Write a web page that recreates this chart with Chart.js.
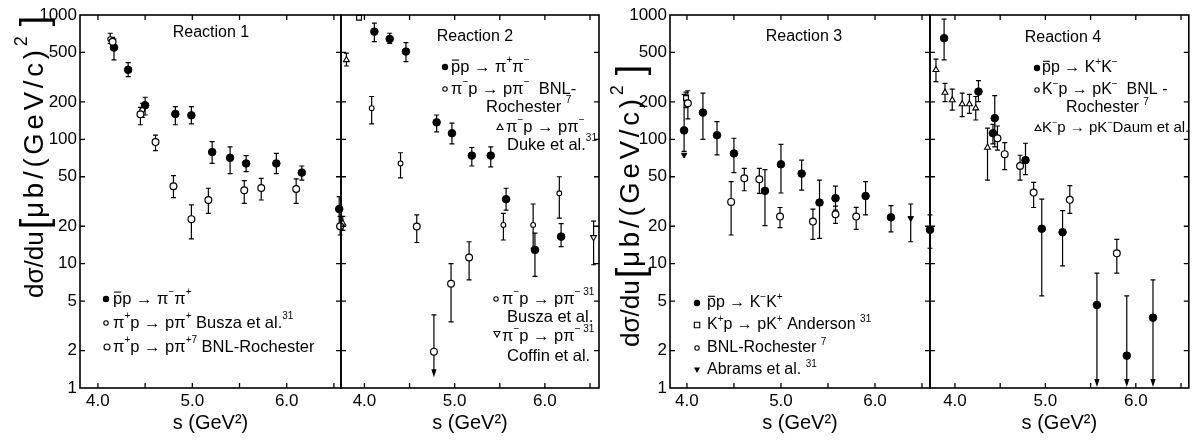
<!DOCTYPE html>
<html>
<head>
<meta charset="utf-8">
<script src="https://cdn.jsdelivr.net/npm/chart.js@4.4.1/dist/chart.umd.min.js"></script>
<style>
  html, body { margin: 0; background: #fff; }
  #wrap { position: relative; width: 1194px; height: 440px; }
  #wrap canvas { position: absolute; left: 0; top: 0; }
</style>
</head>
<body>
<div id="wrap">
  <canvas id="c1" width="1194" height="440"></canvas>
  <canvas id="c2" width="1194" height="440"></canvas>
  <canvas id="c3" width="1194" height="440"></canvas>
  <canvas id="c4" width="1194" height="440"></canvas>
</div>
<script>
// tick values
const yTicks = [1, 2, 5, 10, 20, 50, 100, 200, 500, 1000];
const xTicks = [4, 5, 6];
const xMinorTicks = [4, 4.5, 5, 5.5, 6, 6.5];

// Reaction 1
const p1PbarS  = [4.17, 4.32, 4.50, 4.82, 4.99, 5.21, 5.40, 5.57, 5.89, 6.16];
const p1PbarY  = [547, 362, 188, 160, 156, 79, 71, 64, 64, 54];
const p1PbarHi = [641, 414, 218, 183, 183, 96, 87, 74, 77, 61];
const p1PbarLo = [435, 320, 157, 131, 133, 64, 53, 55, 53, 47];
const p1BnlS  = [4.155, 4.45, 4.61, 4.80, 4.99, 5.17, 5.55, 5.73, 6.10];
const p1BnlY  = [610, 159, 95, 42, 22.8, 32.5, 39, 40.6, 39.9];
const p1BnlHi = [660, 181, 108, 51, 29.7, 40.4, 46.5, 48.6, 48];
const p1BnlLo = [570, 131, 81, 34, 15.8, 25.4, 30.6, 32.5, 30.6];
const p1BuszaS  = [4.13, 4.47];
const p1BuszaY  = [640, 172];
const p1BuszaHi = [713, 195];
const p1BuszaLo = [590, 150];

// Reaction 2
const p2PbarS  = [3.72, 4.11, 4.28, 4.46, 4.80, 4.97, 5.19, 5.40, 5.57, 5.89, 6.18];
const p2PbarY  = [27.5, 735, 642, 508, 137, 112, 74, 74, 33, 12.9, 16.5];
const p2PbarHi = [34.6, 859, 713, 600, 157, 135, 86, 87, 40.4, 17.6, 21];
const p2PbarLo = [19.9, 611, 592, 422, 115, 92, 61, 60, 27, 7.9, 13.7];
const p2BnlS  = [3.73, 4.58, 4.77, 4.96, 5.16];
const p2BnlY  = [20, 19.9, 1.96, 6.9, 11.2];
const p2BnlHi = [24, 24.7, 3.87, 10, 15];
const p2BnlLo = [17, 14.8, 1.22, 3.4, 7.4];
const p2BnlArrows = [2];
const p2BuszaS  = [4.08, 4.40, 5.54, 5.87, 6.16];
const p2BuszaY  = [178, 64, 20.5, 20.5, 36.8];
const p2BuszaHi = [221, 78, 25.4, 30.2, 50];
const p2BuszaLo = [133, 49, 15.5, 13.3, 23.2];
const p2DukeS  = [3.80, 3.76];
const p2DukeY  = [435, 21.1];
const p2DukeHi = [493, 24];
const p2DukeLo = [389, 18.5];
const p2CoffinS  = [6.54];
const p2CoffinY  = [16.3];
const p2CoffinHi = [22];
const p2CoffinLo = [9.8];
const p2SquareS = [3.94];
const p2SquareY = [950];

// Reaction 3
const p3PbarS  = [3.97, 4.17, 4.32, 4.50, 4.83, 5.00, 5.22, 5.41, 5.58, 5.90, 6.17, 6.585];
const p3PbarY  = [118, 164, 108, 77, 38.5, 63, 53, 31, 33.6, 35, 23.6, 18.7];
const p3PbarHi = [230, 235, 139, 102, 57, 91, 68, 47, 42, 45.7, 29.3, 24.7];
const p3PbarLo = [80, 100, 75, 54, 20.2, 37, 39, 16, 27, 24.7, 18, 13.3];
const p3AndS  = [3.99];
const p3AndY  = [215];
const p3AndHi = [240];
const p3AndLo = [180];
const p3BnlS  = [4.01, 4.47, 4.61, 4.77, 4.99, 5.34, 5.58, 5.80];
const p3BnlY  = [195, 31.4, 48.6, 47.7, 23.9, 21.8, 25, 23.9];
const p3BnlHi = [246, 45.7, 58.5, 58.5, 28.3, 27.5, 29, 28.4];
const p3BnlLo = [146, 17, 38.6, 36.8, 19.5, 15.7, 21.1, 18.9];
const p3AbramsS  = [3.97, 6.38];
const p3AbramsY  = [75, 23.2];
const p3AbramsHi = [null, 30.2];
const p3AbramsLo = [null, 15];

// Reaction 4
const p4PbarS  = [3.88, 4.26, 4.42, 4.44, 4.78, 4.96, 5.19, 5.57, 5.90, 6.19];
const p4PbarY  = [651, 242, 112, 148, 68, 19.1, 17.9, 4.65, 1.82, 3.68];
const p4PbarHi = [925, 297, 132, 225, 93, 33, 26.7, 8.4, 5.5, 7.4];
const p4PbarLo = [435, 201, 92, 87, 52, 5.5, 9.6, 1.02, 1.02, 1.02];
const p4PbarArrows = [7, 8, 9];
const p4BnlS  = [4.47, 4.55, 4.72, 4.87, 5.27, 5.79];
const p4BnlY  = [102, 76, 61, 37.3, 32.6, 12.1];
const p4BnlHi = [128, 94, 74.5, 45, 42.4, 15.7];
const p4BnlLo = [82, 57, 47, 28.3, 25.4, 8.4];
const p4DaumS  = [3.79, 3.89, 3.97, 4.08, 4.16, 4.23, 4.36];
const p4DaumY  = [362, 238, 207, 192, 192, 178, 86];
const p4DaumHi = [441, 282, 253, 235, 230, 221, 123];
const p4DaumLo = [291, 201, 172, 152, 162, 143, 47];

const FONT = '"Liberation Sans", Arial, Helvetica, sans-serif';
Chart.defaults.font.family = FONT;
Chart.defaults.color = '#000';

const FILLED = { pointStyle: 'circle', pointRadius: 3.8, pointBackgroundColor: '#000', pointBorderColor: '#000', pointBorderWidth: 1 };
const OPEN   = { pointStyle: 'circle', pointRadius: 3.4, pointBackgroundColor: '#fff', pointBorderColor: '#000', pointBorderWidth: 1.2 };
const SMALL  = { pointStyle: 'circle', pointRadius: 2.4, pointBackgroundColor: '#fff', pointBorderColor: '#000', pointBorderWidth: 1.1 };
const TRI    = { pointStyle: 'triangle', pointRadius: 3.4, pointBackgroundColor: '#fff', pointBorderColor: '#000', pointBorderWidth: 1.1 };
const DTRI   = { pointStyle: 'triangle', pointRotation: 180, pointRadius: 3.4, pointBackgroundColor: '#fff', pointBorderColor: '#000', pointBorderWidth: 1.1 };
const DTRIF  = { pointStyle: 'triangle', pointRotation: 180, pointRadius: 3.2, pointBackgroundColor: '#000', pointBorderColor: '#000', pointBorderWidth: 1 };
const SQ     = { pointStyle: 'rect', pointRadius: 3.4, pointBackgroundColor: '#fff', pointBorderColor: '#000', pointBorderWidth: 1.1 };

function series(xs, ys, lo, hi, style, arrows) {
  return Object.assign({
    data: xs.map((x, i) => ({ x, y: ys[i] })),
    lo: lo, hi: hi, arrows: arrows || [],
    showLine: false, clip: false
  }, style);
}

// draws a string with ^{..} superscripts and ¯x overbars
function richText(ctx, str, x, y, size, align) {
  const pieces = [];
  let i = 0;
  while (i < str.length) {
    if (str[i] === '^' && str[i + 1] === '{') {
      const j = str.indexOf('}', i);
      pieces.push({ t: str.slice(i + 2, j), sup: true });
      i = j + 1;
    } else if (str[i] === '¯') {
      pieces.push({ t: str[i + 1], bar: true });
      i += 2;
    } else {
      let j = i;
      while (j < str.length && !(str[j] === '^' && str[j + 1] === '{') && str[j] !== '¯') j++;
      pieces.push({ t: str.slice(i, j) });
      i = j;
    }
  }
  const norm = size + 'px ' + FONT;
  const sup = Math.round(size * 0.62) + 'px ' + FONT;
  let total = 0;
  pieces.forEach(p => {
    ctx.font = p.sup ? sup : norm;
    p.w = ctx.measureText(p.t).width;
    total += p.w;
  });
  let cx = align === 'center' ? x - total / 2 : x;
  ctx.textAlign = 'left';
  ctx.textBaseline = 'middle';
  pieces.forEach(p => {
    ctx.font = p.sup ? sup : norm;
    ctx.fillText(p.t, cx, p.sup ? y - size * 0.38 : y);
    if (p.bar) {
      ctx.beginPath();
      ctx.lineWidth = 1.1;
      ctx.moveTo(cx + 1, y - size * 0.42);
      ctx.lineTo(cx + p.w - 1, y - size * 0.42);
      ctx.stroke();
    }
    cx += p.w;
  });
}

function marker(ctx, kind, x, y) {
  ctx.beginPath();
  ctx.lineWidth = 1.1;
  if (kind === 'filled') { ctx.arc(x, y, 3.2, 0, Math.PI * 2); ctx.fill(); return; }
  if (kind === 'open') { ctx.arc(x, y, 3, 0, Math.PI * 2); ctx.stroke(); return; }
  if (kind === 'small') { ctx.arc(x, y, 2.2, 0, Math.PI * 2); ctx.stroke(); return; }
  if (kind === 'tri') { ctx.moveTo(x, y - 3); ctx.lineTo(x + 3, y + 2.5); ctx.lineTo(x - 3, y + 2.5); ctx.closePath(); ctx.stroke(); return; }
  if (kind === 'dtri') { ctx.moveTo(x, y + 3); ctx.lineTo(x + 3, y - 2.5); ctx.lineTo(x - 3, y - 2.5); ctx.closePath(); ctx.stroke(); return; }
  if (kind === 'dtrif') { ctx.moveTo(x, y + 3); ctx.lineTo(x + 3, y - 2.5); ctx.lineTo(x - 3, y - 2.5); ctx.closePath(); ctx.fill(); return; }
  if (kind === 'sq') { ctx.rect(x - 2.7, y - 2.7, 5.4, 5.4); ctx.stroke(); return; }
}

function yTitle(ctx, x, y) {
  ctx.save();
  ctx.translate(x, y);
  ctx.rotate(-Math.PI / 2);
  ctx.textAlign = 'left';
  ctx.textBaseline = 'alphabetic';
  let cx = 0;
  const put = (t, size, dy, spacing) => {
    ctx.font = size + 'px ' + FONT;
    ctx.letterSpacing = (spacing || 0) + 'px';
    ctx.fillText(t, cx, dy);
    cx += ctx.measureText(t).width;
  };
  put('dσ/du', 26, 0, 0);
  cx += 2;
  put('[', 38, 4, 0);
  cx += 1;
  put('μb/(GeV/c)', 27.5, 0, 3.8);
  put('2', 18, -16, 0);
  cx += 10;
  put(']', 38, 4, 0);
  ctx.restore();
}

const errorBars = {
  id: 'errorBars',
  beforeDatasetsDraw(chart) {
    const { ctx } = chart;
    const xs = chart.scales.x, ys = chart.scales.y;
    ctx.save();
    ctx.strokeStyle = '#000';
    ctx.fillStyle = '#000';
    ctx.lineWidth = 1.2;
    chart.data.datasets.forEach(ds => {
      if (!ds.lo) return;
      ds.data.forEach((p, i) => {
        if (ds.lo[i] == null) return;
        const px = xs.getPixelForValue(p.x);
        const top = ys.getPixelForValue(ds.hi[i]);
        const bot = ys.getPixelForValue(ds.lo[i]);
        const arrow = ds.arrows.includes(i);
        ctx.beginPath();
        ctx.moveTo(px, top); ctx.lineTo(px, arrow ? bot - 6 : bot);
        ctx.moveTo(px - 2.5, top); ctx.lineTo(px + 2.5, top);
        if (!arrow) { ctx.moveTo(px - 2.5, bot); ctx.lineTo(px + 2.5, bot); }
        ctx.stroke();
        if (arrow) {
          ctx.beginPath();
          ctx.moveTo(px - 2.6, bot - 8); ctx.lineTo(px + 2.6, bot - 8); ctx.lineTo(px, bot);
          ctx.closePath(); ctx.fill();
        }
      });
    });
    ctx.restore();
  }
};

const frame = {
  id: 'frame',
  afterDraw(chart, args, opts) {
    const { ctx, chartArea: a } = chart;
    const xs = chart.scales.x, ys = chart.scales.y;
    ctx.save();
    ctx.strokeStyle = '#000';
    ctx.fillStyle = '#000';
    ctx.lineWidth = 1.6;
    ctx.strokeRect(a.left, a.top, a.right - a.left, a.bottom - a.top);
    ctx.lineWidth = 1.3;
    ctx.beginPath();
    xMinorTicks.forEach(v => {
      if (v <= xs.min || v >= xs.max) return;
      const px = xs.getPixelForValue(v);
      ctx.moveTo(px, a.bottom); ctx.lineTo(px, a.bottom - 5);
      ctx.moveTo(px, a.top); ctx.lineTo(px, a.top + 5);
    });
    yTicks.forEach(v => {
      if (v <= ys.min || v >= ys.max) return;
      const py = ys.getPixelForValue(v);
      ctx.moveTo(a.left, py); ctx.lineTo(a.left + 5, py);
      ctx.moveTo(a.right, py); ctx.lineTo(a.right - 5, py);
    });
    ctx.stroke();
    (opts.texts || []).forEach(t => richText(ctx, t.text, t.x, t.y, t.size || opts.size || 16, t.align));
    (opts.marks || []).forEach(m => marker(ctx, m.kind, m.x, m.y));
    if (opts.title) yTitle(ctx, opts.title.x, opts.title.y);
    ctx.restore();
  }
};

function panel(id, o) {
  return new Chart(document.getElementById(id), {
    type: 'scatter',
    data: { datasets: o.datasets },
    options: {
      responsive: false,
      animation: false,
      events: [],
      layout: { padding: { left: o.showY ? o.left - 80 : o.left, right: 1194 - o.right, top: 15, bottom: 5 } },
      scales: {
        x: {
          type: 'linear', min: o.xMin, max: o.xMax,
          afterFit: s => { s.height = 47; },
          afterBuildTicks: s => { s.ticks = xTicks.map(v => ({ value: v })); },
          ticks: { callback: v => v.toFixed(1), font: { size: 17 }, color: '#000', padding: 3, maxRotation: 0, autoSkip: false },
          grid: { display: false, drawTicks: false },
          border: { display: false },
          title: { display: true, text: 's (GeV²)', font: { size: 20 }, color: '#000', padding: 0 }
        },
        y: {
          type: 'logarithmic', min: 1, max: 1000,
          display: o.showY,
          afterFit: s => { s.width = o.showY ? 80 : 0; },
          afterBuildTicks: s => { s.ticks = yTicks.map(v => ({ value: v })); },
          ticks: { callback: v => String(v), font: { size: 17 }, color: '#000', padding: 3, autoSkip: false },
          grid: { display: false, drawTicks: false },
          border: { display: false }
        }
      },
      plugins: {
        legend: { display: false },
        tooltip: { enabled: false },
        frame: { texts: o.texts, marks: o.marks, title: o.title, size: o.size }
      }
    },
    plugins: [errorBars, frame]
  });
}

panel('c1', {
  left: 80, right: 341, xMin: 3.81, xMax: 6.575, showY: true, size: 16.5,
  datasets: [
    series(p1BnlS, p1BnlY, p1BnlLo, p1BnlHi, OPEN),
    series(p1BuszaS, p1BuszaY, p1BuszaLo, p1BuszaHi, SMALL),
    series(p1PbarS, p1PbarY, p1PbarLo, p1PbarHi, FILLED)
  ],
  title: { x: 43, y: 298 },
  texts: [
    { text: 'Reaction 1', x: 211, y: 33, align: 'center', size: 16 },
    { text: '¯pp → π^{−}π^{+}', x: 113, y: 299 },
    { text: 'π^{+}p → pπ^{+} Busza et al.^{31}', x: 113, y: 323 },
    { text: 'π^{+}p → pπ^{+7} BNL-Rochester', x: 113, y: 347 }
  ],
  marks: [
    { kind: 'filled', x: 106, y: 299 },
    { kind: 'small', x: 106, y: 323 },
    { kind: 'open', x: 107, y: 347 }
  ]
});

panel('c2', {
  left: 341, right: 599, xMin: 3.74, xMax: 6.6, showY: false, size: 16.5,
  datasets: [
    series(p2BnlS, p2BnlY, p2BnlLo, p2BnlHi, OPEN, p2BnlArrows),
    series(p2BuszaS, p2BuszaY, p2BuszaLo, p2BuszaHi, SMALL),
    series(p2DukeS, p2DukeY, p2DukeLo, p2DukeHi, TRI),
    series(p2CoffinS, p2CoffinY, p2CoffinLo, p2CoffinHi, DTRI),
    series(p2SquareS, p2SquareY, null, null, SQ),
    series(p2PbarS, p2PbarY, p2PbarLo, p2PbarHi, FILLED)
  ],
  texts: [
    { text: 'Reaction 2', x: 475, y: 37, align: 'center', size: 16 },
    { text: '¯pp → π^{+}π^{−}', x: 451, y: 67 },
    { text: 'π^{−}p → pπ^{−}  BNL-', x: 451, y: 89 },
    { text: 'Rochester ^{7}', x: 486, y: 107 },
    { text: 'π^{−}p → pπ^{−}', x: 506, y: 127 },
    { text: 'Duke et al.^{31}', x: 507, y: 145 },
    { text: 'π^{−}p → pπ^{− 31}', x: 502, y: 299 },
    { text: 'Busza et al.', x: 507, y: 317 },
    { text: 'π^{−}p → pπ^{− 31}', x: 502, y: 336 },
    { text: 'Coffin et al.', x: 507, y: 356 }
  ],
  marks: [
    { kind: 'filled', x: 445, y: 67 },
    { kind: 'small', x: 445, y: 89 },
    { kind: 'tri', x: 500, y: 127 },
    { kind: 'small', x: 496, y: 299 },
    { kind: 'dtri', x: 497, y: 334 }
  ]
});

panel('c3', {
  left: 670, right: 930, xMin: 3.82, xMax: 6.585, showY: true, size: 16,
  datasets: [
    series(p3BnlS, p3BnlY, p3BnlLo, p3BnlHi, OPEN),
    series(p3AndS, p3AndY, p3AndLo, p3AndHi, SQ),
    series(p3AbramsS, p3AbramsY, p3AbramsLo, p3AbramsHi, DTRIF),
    series(p3PbarS, p3PbarY, p3PbarLo, p3PbarHi, FILLED)
  ],
  title: { x: 639, y: 347 },
  texts: [
    { text: 'Reaction 3', x: 804, y: 37, align: 'center' },
    { text: '¯pp → K^{−}K^{+}', x: 707, y: 303 },
    { text: 'K^{+}p → pK^{+} Anderson ^{31}', x: 707, y: 325 },
    { text: 'BNL-Rochester ^{7}', x: 707, y: 348 },
    { text: 'Abrams et al. ^{31}', x: 707, y: 370 }
  ],
  marks: [
    { kind: 'filled', x: 697, y: 303 },
    { kind: 'sq', x: 697, y: 325 },
    { kind: 'small', x: 697, y: 348 },
    { kind: 'dtrif', x: 697, y: 370 }
  ]
});

panel('c4', {
  left: 930, right: 1189, xMin: 3.724, xMax: 6.586, showY: false, size: 16,
  datasets: [
    series(p4DaumS, p4DaumY, p4DaumLo, p4DaumHi, TRI),
    series(p4BnlS, p4BnlY, p4BnlLo, p4BnlHi, OPEN),
    series(p4PbarS, p4PbarY, p4PbarLo, p4PbarHi, FILLED, p4PbarArrows)
  ],
  texts: [
    { text: 'Reaction 4', x: 1063, y: 38, align: 'center' },
    { text: '¯pp → K^{+}K^{−}', x: 1042, y: 68 },
    { text: 'K^{−}p → pK^{−}  BNL -', x: 1042, y: 90 },
    { text: 'Rochester ^{7}', x: 1066, y: 108 },
    { text: 'K^{−}p → pK^{−}Daum et al.', x: 1042, y: 128, size: 15 }
  ],
  marks: [
    { kind: 'filled', x: 1037, y: 68 },
    { kind: 'small', x: 1037, y: 90 },
    { kind: 'tri', x: 1038, y: 128 }
  ]
});
</script>
</body>
</html>
